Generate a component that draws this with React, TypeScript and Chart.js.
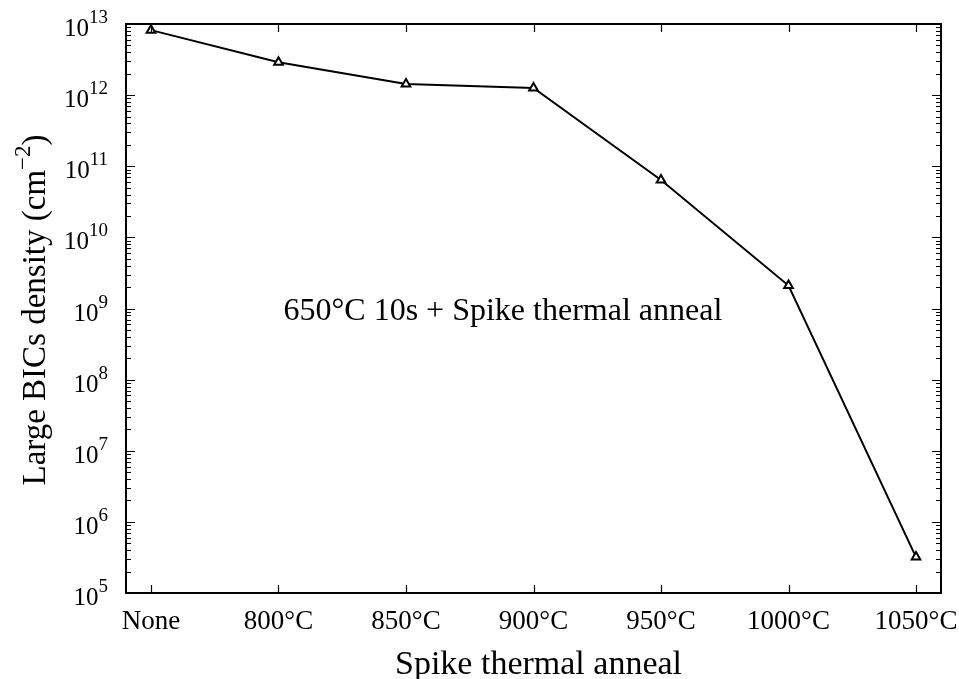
import React, { useEffect, useRef } from "react";
import { Chart, registerables } from "chart.js";

Chart.register(...registerables);

const categories = ["None", "800°C", "850°C", "900°C", "950°C", "1000°C", "1050°C"];
const densities = [8.2e12, 2.9e12, 1.43e12, 1.26e12, 6.4e10, 2.1e9, 3.2e5];
const yExponents = [5, 6, 7, 8, 9, 10, 11, 12, 13];
const xTitle = "Spike thermal anneal";
const yTitleMain = "Large BICs density (cm";
const yTitleSup = "−2";
const yTitleEnd = ")";
const annotation = "650°C 10s + Spike thermal anneal";

const FONT = "'Liberation Serif', 'Times New Roman', serif";

const framePlugin = {
  id: "frame",
  afterDraw(chart: any) {
    const ctx = chart.ctx as CanvasRenderingContext2D;
    const a = chart.chartArea;
    const xs = chart.scales.x;
    const ys = chart.scales.y;
    ctx.save();
    ctx.strokeStyle = "#000";
    ctx.lineWidth = 2;
    ctx.strokeRect(a.left, a.top, a.right - a.left, a.bottom - a.top);

    ctx.lineWidth = 1.2;
    ctx.beginPath();
    for (let i = 0; i < yExponents.length; i++) {
      const e = yExponents[i];
      const py = Math.round(ys.getPixelForValue(Math.pow(10, e))) + 0.5;
      ctx.moveTo(a.left, py);
      ctx.lineTo(a.left + 9, py);
      ctx.moveTo(a.right, py);
      ctx.lineTo(a.right - 9, py);
      if (i < yExponents.length - 1) {
        for (let m = 2; m <= 9; m++) {
          const my = Math.round(ys.getPixelForValue(m * Math.pow(10, e))) + 0.5;
          ctx.moveTo(a.left, my);
          ctx.lineTo(a.left + 5, my);
          ctx.moveTo(a.right, my);
          ctx.lineTo(a.right - 5, my);
        }
      }
    }
    for (let i = 0; i < categories.length; i++) {
      const px = Math.round(xs.getPixelForValue(i)) + 0.5;
      ctx.moveTo(px, a.bottom);
      ctx.lineTo(px, a.bottom - 8);
      ctx.moveTo(px, a.top);
      ctx.lineTo(px, a.top + 8);
    }
    ctx.stroke();

    ctx.fillStyle = "#000";
    // y tick labels (10^n)
    for (const e of yExponents) {
      const py = ys.getPixelForValue(Math.pow(10, e));
      ctx.font = `19px ${FONT}`;
      const sup = String(e);
      const supW = ctx.measureText(sup).width;
      ctx.textAlign = "left";
      ctx.textBaseline = "alphabetic";
      const right = 108;
      ctx.fillText(sup, right - supW, py - 1);
      ctx.font = `25px ${FONT}`;
      ctx.textAlign = "right";
      ctx.fillText("10", right - supW, py + 12);
    }
    // x tick labels
    ctx.font = `27px ${FONT}`;
    ctx.textAlign = "center";
    ctx.textBaseline = "alphabetic";
    for (let i = 0; i < categories.length; i++) {
      const px = xs.getPixelForValue(i);
      ctx.fillText(categories[i], px, a.bottom + 36);
    }
    // x title
    ctx.font = `34px ${FONT}`;
    ctx.fillText(xTitle, (a.left + a.right) / 2 + 5, a.bottom + 81);

    // annotation
    ctx.font = `32px ${FONT}`;
    ctx.fillText(annotation, xs.getPixelForValue(2.76), ys.getPixelForValue(1e9) + 11);

    // y title rotated
    ctx.save();
    ctx.translate(45, 310);
    ctx.rotate(-Math.PI / 2);
    ctx.font = `33px ${FONT}`;
    const w1 = ctx.measureText(yTitleMain).width;
    ctx.font = `23px ${FONT}`;
    const w2 = ctx.measureText(yTitleSup).width;
    ctx.font = `33px ${FONT}`;
    const w3 = ctx.measureText(yTitleEnd).width;
    const total = w1 + w2 + w3;
    const x0 = -total / 2;
    ctx.textAlign = "left";
    ctx.fillText(yTitleMain, x0, 0);
    ctx.font = `23px ${FONT}`;
    ctx.fillText(yTitleSup, x0 + w1, -15);
    ctx.font = `33px ${FONT}`;
    ctx.fillText(yTitleEnd, x0 + w1 + w2, 0);
    ctx.restore();

    ctx.restore();
  },
};

export default function App() {
  const ref = useRef<HTMLCanvasElement>(null);
  useEffect(() => {
    if (!ref.current) return;
    const chart = new Chart(ref.current, {
      type: "line",
      data: {
        datasets: [
          {
            data: densities.map((v, i) => ({ x: i, y: v })),
            borderColor: "#000",
            borderWidth: 2,
            pointStyle: "triangle",
            pointRadius: 5,
            pointBorderWidth: 2,
            pointBorderColor: "#000",
            pointBackgroundColor: "#fff",
            tension: 0,
          },
        ],
      },
      options: {
        animation: false,
        responsive: false,
        devicePixelRatio: 1,
        layout: { padding: { left: 126, top: 24, right: 18, bottom: 86 } },
        plugins: { legend: { display: false }, tooltip: { enabled: false } },
        scales: {
          x: { type: "linear", min: -0.196, max: 6.196, display: false },
          y: { type: "logarithmic", min: 1e5, max: 1e13, display: false },
        },
      },
      plugins: [framePlugin],
    });
    return () => chart.destroy();
  }, []);
  return (
    <div style={{ position: "absolute", left: 0, top: 0, width: 959, height: 679, background: "#fff" }}>
      <canvas ref={ref} width={959} height={679} />
    </div>
  );
}
